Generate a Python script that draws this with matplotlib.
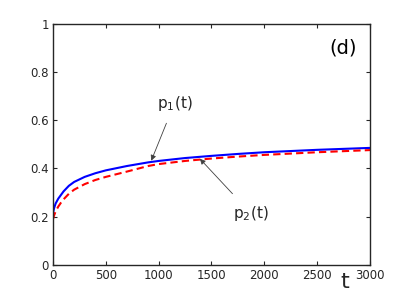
import matplotlib
matplotlib.use("Agg")
import matplotlib.pyplot as plt

t_vals = [0, 10, 25, 50, 75, 100, 150, 200, 300, 400, 500, 700, 900, 1000, 1250, 1500, 1750, 2000, 2500, 3000]
p1_vals = [0.215, 0.235, 0.255, 0.275, 0.29, 0.305, 0.328, 0.344, 0.365, 0.38, 0.392, 0.41, 0.425, 0.431, 0.443, 0.452, 0.46, 0.467, 0.477, 0.485]
p2_vals = [0.19, 0.205, 0.222, 0.242, 0.258, 0.272, 0.295, 0.312, 0.335, 0.352, 0.365, 0.387, 0.41, 0.418, 0.431, 0.441, 0.449, 0.456, 0.467, 0.476]
x_ticks = [0, 500, 1000, 1500, 2000, 2500, 3000]
y_ticks = [0, 0.2, 0.4, 0.6, 0.8, 1]
y_labels = ["0", "0.2", "0.4", "0.6", "0.8", "1"]

fig = plt.figure(figsize=(4.09, 2.98), dpi=100)
ax = fig.add_axes([0.1296, 0.1107, 0.775, 0.8103])
ax.plot(t_vals, p1_vals, color="#0000ff", lw=1.5, solid_capstyle="butt")
ax.plot(t_vals, p2_vals, color="#ff0000", lw=1.5, ls=(0, (3.5, 2)))
ax.set_xlim(0, 3000)
ax.set_ylim(0, 1)
ax.set_xticks(x_ticks)
ax.set_xticklabels([str(v) for v in x_ticks])
ax.set_yticks(y_ticks)
ax.set_yticklabels(y_labels)
gray = "#262626"
for s in ax.spines.values():
    s.set_color(gray)
    s.set_linewidth(1.0)
ax.tick_params(direction="in", length=3, width=0.8, colors=gray, labelsize=8.5,
               top=True, right=True, pad=3)

ax.annotate("p$_1$(t)", xy=(930, 0.432), xytext=(1150, 0.67),
            ha="center", va="center", fontsize=11, color=gray,
            arrowprops=dict(arrowstyle="-|>", color="#404040", lw=0.6,
                            mutation_scale=8, shrinkA=6, shrinkB=0))
ax.annotate("p$_2$(t)", xy=(1390, 0.44), xytext=(1870, 0.215),
            ha="center", va="center", fontsize=11, color=gray,
            arrowprops=dict(arrowstyle="-|>", color="#404040", lw=0.6,
                            mutation_scale=8, shrinkA=7, shrinkB=0))
ax.text(2750, 0.9, "(d)", ha="center", va="center", fontsize=14, color="black")
fig.text(0.843, 0.054, "t", ha="center", va="center", fontsize=16, color=gray)

fig.savefig("out.png", dpi=100)
